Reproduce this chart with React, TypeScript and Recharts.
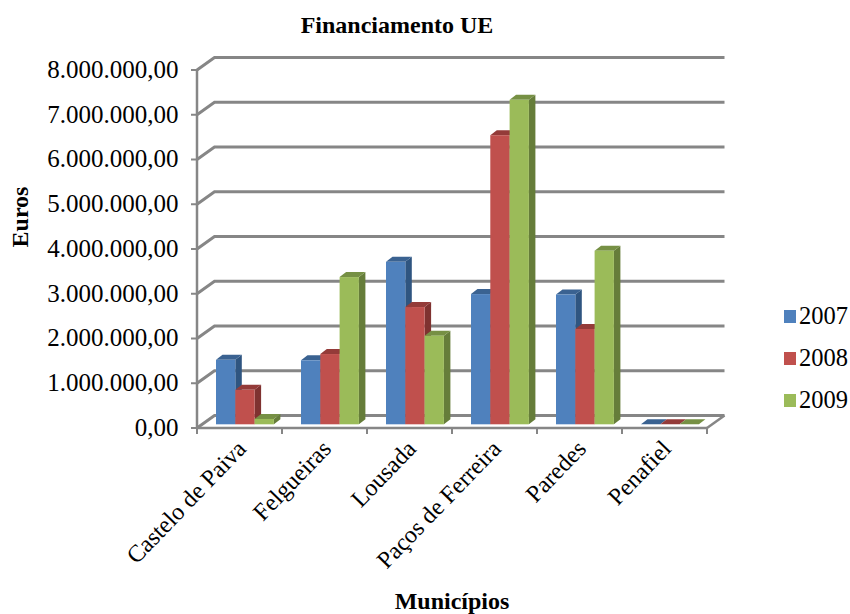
import { BarChart, Bar, XAxis, YAxis, CartesianGrid, Legend, Label } from 'recharts'

const municipios = ['Castelo de Paiva', 'Felgueiras', 'Lousada', 'Paços de Ferreira', 'Paredes', 'Penafiel']
const valores2007 = [1440000, 1430000, 3630000, 2910000, 2900000, 0]
const valores2008 = [770000, 1570000, 2620000, 6460000, 2130000, 0]
const valores2009 = [120000, 3290000, 1980000, 7250000, 3880000, 0]
const yTicks = [0, 1000000, 2000000, 3000000, 4000000, 5000000, 6000000, 7000000, 8000000]

const data = municipios.map((nome, i) => ({
  nome,
  a2007: valores2007[i],
  a2008: valores2008[i],
  a2009: valores2009[i],
}))

const FONT = "'Liberation Serif', serif"
const GREY = '#868686'
// depth of the fake 3d box and of the bars
const WALL_DX = 17.5
const WALL_DY = -12.5
const BAR_DX = 5
const BAR_DY = -3.7
const DEPTH_X = 6.5
const DEPTH_Y = -5
const BAND = 85

const formatEuros = (v: number) =>
  v.toLocaleString('de-DE', { minimumFractionDigits: 2, maximumFractionDigits: 2 })

const Bar3d = (colors: { front: string; top: string; side: string }) => (props: any) => {
  const x = props.x + BAR_DX
  const y = props.y + BAR_DY
  const w = props.width
  const h = props.height
  return (
    <g>
      <polygon
        points={`${x + w},${y} ${x + w + DEPTH_X},${y + DEPTH_Y} ${x + w + DEPTH_X},${y + h + DEPTH_Y} ${x + w},${y + h}`}
        fill={colors.side}
      />
      <polygon
        points={`${x},${y} ${x + DEPTH_X},${y + DEPTH_Y} ${x + w + DEPTH_X},${y + DEPTH_Y} ${x + w},${y}`}
        fill={colors.top}
      />
      <rect x={x} y={y} width={w} height={h} fill={colors.front} />
    </g>
  )
}

const WallLine = (props: any) => {
  const { x1, x2, y1 } = props
  const isFloor = y1 > 420
  return (
    <g>
      <polyline
        points={`${x1},${y1} ${x1 + WALL_DX},${y1 + WALL_DY} ${x2 + WALL_DX},${y1 + WALL_DY}`}
        fill="none"
        stroke={GREY}
        strokeWidth={3}
      />
      {isFloor && (
        <line x1={x2} y1={y1} x2={x2 + WALL_DX} y2={y1 + WALL_DY} stroke={GREY} strokeWidth={2.5} />
      )}
    </g>
  )
}

// ticks sit on the category boundaries, labels stay slanted under the band centre
const MunicipioTick = (props: any) => {
  const { x, y, payload, index } = props
  return (
    <g>
      <line x1={x - BAND / 2} y1={428} x2={x - BAND / 2} y2={434} stroke={GREY} strokeWidth={2} />
      {index === municipios.length - 1 && (
        <line x1={x + BAND / 2} y1={428} x2={x + BAND / 2} y2={434} stroke={GREY} strokeWidth={2} />
      )}
      <text
        x={x + 8}
        y={y + 14}
        transform={`rotate(-46 ${x + 8} ${y + 14})`}
        textAnchor="end"
        fontFamily={FONT}
        fontSize={24}
        fill="#000"
      >
        {payload.value}
      </text>
    </g>
  )
}

const LegendBox = (props: any) => (
  <div style={{ fontFamily: FONT, fontSize: 24.5, color: '#000' }}>
    {props.payload.map((item: any) => (
      <div key={item.value} style={{ display: 'flex', alignItems: 'center', height: 42 }}>
        <span style={{ width: 12, height: 13, background: item.color, marginRight: 3 }} />
        <span>{item.value}</span>
      </div>
    ))}
  </div>
)

export default function App() {
  return (
    <div style={{ position: 'absolute', left: 0, top: 0, width: 850, height: 614 }}>
      <BarChart
        width={850}
        height={614}
        data={data}
        margin={{ top: 70, right: 77, bottom: 0, left: 0 }}
        barSize={19.3}
        barGap={0}
      >
        <text
          x={397}
          y={33}
          textAnchor="middle"
          fontFamily={FONT}
          fontWeight="bold"
          fontSize={24}
          fill="#000"
        >
          Financiamento UE
        </text>
        <CartesianGrid vertical={false} horizontal={WallLine as any} />
        <XAxis
          dataKey="nome"
          height={186}
          interval={0}
          stroke={GREY}
          strokeWidth={2.5}
          tickLine={false}
          tick={MunicipioTick}
        >
          <Label
            value="Municípios"
            position="insideBottom"
            offset={5}
            style={{ fontFamily: FONT, fontWeight: 'bold', fontSize: 24, fill: '#000' }}
          />
        </XAxis>
        <YAxis
          width={197}
          domain={[0, 8000000]}
          ticks={yTicks}
          interval={0}
          tickFormatter={formatEuros}
          stroke={GREY}
          strokeWidth={2.5}
          tickSize={6}
          tickMargin={12.5}
          tickLine={{ stroke: GREY, strokeWidth: 2 }}
          tick={{ fontFamily: FONT, fontSize: 25, fill: '#000', dy: -1 }}
        >
          <Label
            value="Euros"
            angle={-90}
            position="insideLeft"
            offset={19}
            dy={-32}
            style={{ fontFamily: FONT, fontWeight: 'bold', fontSize: 24, fill: '#000', textAnchor: 'middle' }}
          />
        </YAxis>
        <Legend
          layout="vertical"
          align="right"
          verticalAlign="middle"
          content={LegendBox}
          wrapperStyle={{ position: 'absolute', left: 784, top: 295, width: 66 }}
        />
        <Bar
          dataKey="a2007"
          name="2007"
          fill="#4F81BD"
          isAnimationActive={false}
          shape={Bar3d({ front: '#4F81BD', top: '#3A6291', side: '#2F5580' })}
        />
        <Bar
          dataKey="a2008"
          name="2008"
          fill="#C0504D"
          isAnimationActive={false}
          shape={Bar3d({ front: '#C0504D', top: '#943B39', side: '#7F3230' })}
        />
        <Bar
          dataKey="a2009"
          name="2009"
          fill="#9BBB59"
          isAnimationActive={false}
          shape={Bar3d({ front: '#9BBB59', top: '#769044', side: '#667D3A' })}
        />
      </BarChart>
    </div>
  )
}
